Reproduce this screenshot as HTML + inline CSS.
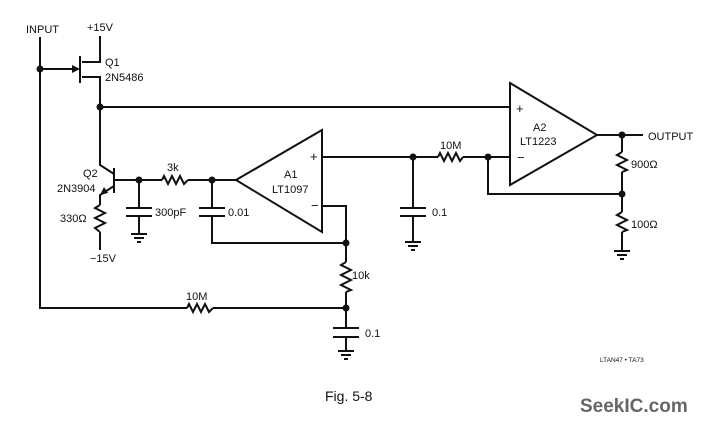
<!DOCTYPE html>
<html><head><style>
html,body{margin:0;padding:0;background:#fff;}
svg{display:block}
text{font-family:"Liberation Sans",Arial,sans-serif;fill:#111;}
</style></head><body>
<svg width="702" height="424" viewBox="0 0 702 424" xmlns="http://www.w3.org/2000/svg">
<g stroke="#111" stroke-width="2" fill="none" stroke-linejoin="miter">
<polyline points="40,37 40,308 187,308"/>
<polyline points="213,308 346,308"/>
<line x1="40" y1="69" x2="76" y2="69"/>
<line x1="80" y1="56" x2="80" y2="83"/>
<polyline points="100,36 100,62 82,62"/>
<polyline points="82,77 100,77 100,165 114,174"/>
<line x1="100" y1="107" x2="510" y2="107"/>
<line x1="114" y1="168" x2="114" y2="193"/>
<polyline points="114,186 100,195 100,205"/>
<line x1="100" y1="232" x2="100" y2="250"/>
<polyline points="100,205 95,208 105,213 95,218 105,223 95,228 100,232"/>
<line x1="114" y1="180" x2="162" y2="180"/>
<polyline points="162,180 164,176 168,184 172,176 176,184 180,176 184,184 188,180"/>
<line x1="188" y1="180" x2="236" y2="180"/>
<line x1="139" y1="180" x2="139" y2="208"/>
<line x1="126" y1="208" x2="152" y2="208"/>
<line x1="126" y1="216" x2="152" y2="216"/>
<line x1="139" y1="216" x2="139" y2="234"/>
<line x1="131" y1="234" x2="147" y2="234"/>
<line x1="134" y1="238" x2="144" y2="238"/>
<line x1="137" y1="242" x2="141" y2="242"/>
<line x1="212" y1="180" x2="212" y2="208"/>
<line x1="199" y1="208" x2="225" y2="208"/>
<line x1="199" y1="216" x2="225" y2="216"/>
<polyline points="212,216 212,243 346,243"/>
<polygon points="236,180 322,130 322,232"/>
<polyline points="322,206 346,206 346,262"/>
<polyline points="346,262 341,265 351,270 341,275 351,280 341,285 351,290 346,292"/>
<line x1="346" y1="292" x2="346" y2="328"/>
<line x1="333" y1="328" x2="359" y2="328"/>
<line x1="333" y1="337" x2="359" y2="337"/>
<line x1="346" y1="337" x2="346" y2="351"/>
<line x1="338" y1="351" x2="354" y2="351"/>
<line x1="341" y1="355" x2="351" y2="355"/>
<line x1="344" y1="359" x2="348" y2="359"/>
<polyline points="187,308 189,304 193,312 197,304 201,312 205,304 209,312 213,308"/>
<line x1="322" y1="157" x2="438" y2="157"/>
<polyline points="438,157 440,153 444,161 448,153 452,161 456,153 460,161 463,157"/>
<line x1="463" y1="157" x2="510" y2="157"/>
<line x1="413" y1="157" x2="413" y2="208"/>
<line x1="400" y1="208" x2="426" y2="208"/>
<line x1="400" y1="216" x2="426" y2="216"/>
<line x1="413" y1="216" x2="413" y2="242"/>
<line x1="405" y1="242" x2="421" y2="242"/>
<line x1="408" y1="246" x2="418" y2="246"/>
<line x1="411" y1="250" x2="415" y2="250"/>
<polygon points="510,83 597,135 510,185"/>
<polyline points="488,157 488,194 622,194"/>
<line x1="597" y1="135" x2="643" y2="135"/>
<line x1="622" y1="135" x2="622" y2="152"/>
<polyline points="622,152 617,155 627,160 617,165 627,170 622,172"/>
<line x1="622" y1="172" x2="622" y2="212"/>
<polyline points="622,212 617,215 627,220 617,225 627,230 622,232"/>
<line x1="622" y1="232" x2="622" y2="251"/>
<line x1="614" y1="251" x2="630" y2="251"/>
<line x1="617" y1="255" x2="627" y2="255"/>
<line x1="620" y1="259" x2="624" y2="259"/>
</g>
<g fill="#111">
<polygon points="80,69 72,65 72,73"/>
<polygon points="100,195 104,187 108,193"/>
<circle cx="40" cy="69" r="3.5"/>
<circle cx="100" cy="107" r="3.5"/>
<circle cx="139" cy="180" r="3.5"/>
<circle cx="212" cy="180" r="3.5"/>
<circle cx="346" cy="243" r="3.5"/>
<circle cx="346" cy="308" r="3.5"/>
<circle cx="413" cy="157" r="3.5"/>
<circle cx="488" cy="157" r="3.5"/>
<circle cx="622" cy="135" r="3.5"/>
<circle cx="622" cy="194" r="3.5"/>
</g>
<g font-size="11">
<text x="26" y="33">INPUT</text>
<text x="87" y="31">+15V</text>
<text x="105" y="66">Q1</text>
<text x="105" y="81">2N5486</text>
<text x="83" y="177">Q2</text>
<text x="57" y="192">2N3904</text>
<text x="60" y="222">330Ω</text>
<text x="90" y="262">−15V</text>
<text x="167" y="171">3k</text>
<text x="155" y="216">300pF</text>
<text x="228" y="216">0.01</text>
<text x="284" y="178">A1</text>
<text x="272" y="193">LT1097</text>
<text x="310" y="161" font-size="13">+</text>
<text x="311" y="210" font-size="13">−</text>
<text x="352" y="279">10k</text>
<text x="186" y="300">10M</text>
<text x="365" y="337">0.1</text>
<text x="432" y="216">0.1</text>
<text x="440" y="149">10M</text>
<text x="516" y="113" font-size="13">+</text>
<text x="517" y="162" font-size="13">−</text>
<text x="533" y="131">A2</text>
<text x="520" y="145">LT1223</text>
<text x="648" y="140">OUTPUT</text>
<text x="631" y="168">900Ω</text>
<text x="631" y="228">100Ω</text>
<text x="600" y="362" font-size="6.5">LTAN47 • TA73</text>
<text x="325" y="401" font-size="14">Fig. 5-8</text>
</g>
<text x="580" y="412" font-size="19" font-weight="bold" style="fill:#666">SeekIC.com</text>
</svg>
</body></html>
